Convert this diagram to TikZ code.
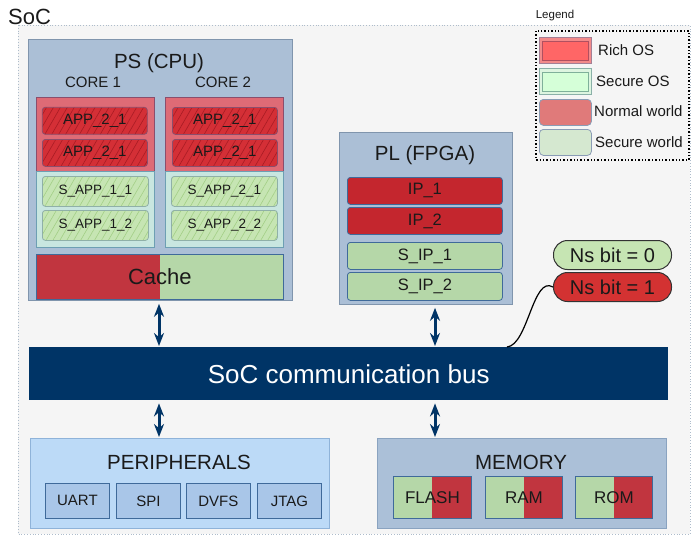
\documentclass[tikz,border=0pt]{standalone}
\usepackage{fontspec}
\setmainfont{Liberation Sans}
\usetikzlibrary{arrows.meta,patterns.meta}
\definecolor{socbg}{HTML}{F5F5F5}
\definecolor{socline}{HTML}{AEBCCB}
\definecolor{psfill}{HTML}{ABBFD6}
\definecolor{psline}{HTML}{8095AD}
\definecolor{redcont}{HTML}{DE6B76}
\definecolor{redcontline}{HTML}{8B4E6C}
\definecolor{appred}{HTML}{D42F36}
\definecolor{apphatch}{HTML}{A81C24}
\definecolor{grcont}{HTML}{C8E6E0}
\definecolor{grcontline}{HTML}{6D9FB3}
\definecolor{sappgreen}{HTML}{C6E5B3}
\definecolor{sapphatch}{HTML}{A3CF86}
\definecolor{sappline}{HTML}{8FB0A8}
\definecolor{cred}{HTML}{C1353F}
\definecolor{cgreen}{HTML}{B5D7A8}
\definecolor{ipred}{HTML}{C4262E}
\definecolor{blueline}{HTML}{3F6A9A}
\definecolor{nsgreen}{HTML}{C6E5B3}
\definecolor{nsred}{HTML}{D33232}
\definecolor{busblue}{HTML}{003466}
\definecolor{perfill}{HTML}{BCDAF7}
\definecolor{perline}{HTML}{8FB3D9}
\definecolor{persub}{HTML}{A9C6E8}
\definecolor{memfill}{HTML}{ABC0D8}
\definecolor{memline}{HTML}{8AA3C0}
\definecolor{richout}{HTML}{F28A8A}
\definecolor{richoutline}{HTML}{A37F95}
\definecolor{richin}{HTML}{FF6666}
\definecolor{richinline}{HTML}{B05060}
\definecolor{secout}{HTML}{DDF5E0}
\definecolor{secoutline}{HTML}{8AB0A8}
\definecolor{secin}{HTML}{D5FFD8}
\definecolor{secinline}{HTML}{7FB09A}
\definecolor{normw}{HTML}{E07A7A}
\definecolor{secw}{HTML}{D5E8D0}
\definecolor{legline}{HTML}{8A9CB5}
\definecolor{txt}{HTML}{1A1A1A}
\tikzset{
  fs/.style={font=\fontsize{#1}{#1}\selectfont},
  blk/.style={draw, inner sep=0pt, anchor=north west, text=txt},
  lbl/.style={inner sep=0pt, text=txt},
  container/.style={blk, fill=psfill, draw=psline, line width=0.8pt},
  redbox/.style={blk, fill=redcont, draw=redcontline, line width=1pt},
  greenbox/.style={blk, fill=grcont, draw=grcontline, line width=1pt},
  appbox/.style={blk, rounded corners=3pt, draw=redcontline, line width=0.8pt,
    preaction={fill=appred}, pattern={Lines[angle=60,distance=6pt,line width=0.6pt]},
    pattern color=apphatch, fs=15},
  sappbox/.style={blk, rounded corners=3pt, draw=sappline, line width=0.8pt,
    preaction={fill=sappgreen}, pattern={Lines[angle=60,distance=6pt,line width=0.6pt]},
    pattern color=sapphatch, fs=13.5},
  ipbox/.style={blk, rounded corners=3pt, fill=ipred, draw=blueline, line width=0.8pt, fs=16.5},
  sipbox/.style={blk, rounded corners=3pt, fill=cgreen, draw=blueline, line width=0.8pt, fs=16.5},
  splitrg/.style={blk, fill=cred, draw=blueline, line width=0.8pt,
    path picture={\fill[cgreen] (path picture bounding box.north) rectangle (path picture bounding box.south east);}},
  splitgr/.style={blk, fill=cgreen, draw=blueline, line width=0.8pt,
    path picture={\fill[cred] (path picture bounding box.north) rectangle (path picture bounding box.south east);}},
  persubbox/.style={blk, fill=persub, draw=blueline, line width=0.8pt, fs=15},
  nsbox/.style={blk, rounded corners=14pt, draw=black!80, line width=1pt, fs=20},
  biarrow/.style={draw=busblue, line width=3pt, {Stealth[length=13pt,width=10pt]}-{Stealth[length=13pt,width=10pt]}, shorten <=3pt, shorten >=1pt},
}
\begin{document}
\begin{tikzpicture}[x=1pt,y=-1pt]
\useasboundingbox (0,0) rectangle (692,536);
\fill[white] (0,0) rectangle (692,536);
% SoC area
\draw[fill=socbg, draw=socline, dotted, line width=0.8pt] (18,25) rectangle (690,534);
\node[lbl, fs=22, anchor=base west] (soc) at (8,24) {SoC};

% Legend
\node[lbl, fs=11.5] (legendlbl) at (555,16) {Legend};
\draw[dotted, line width=1.4pt, draw=black] (536,31) rectangle (689,160);
\node[blk, fill=richout, draw=richoutline, line width=0.8pt, minimum width=52pt, minimum height=26pt] (lg1) at (539,37) {};
\node[blk, fill=richin, draw=richinline, line width=0.8pt, minimum width=46pt, minimum height=19pt] (lg1i) at (542,41) {};
\node[blk, fill=secout, draw=secoutline, line width=0.8pt, minimum width=52pt, minimum height=26pt] (lg2) at (539,68) {};
\node[blk, fill=secin, draw=secinline, line width=0.8pt, minimum width=46pt, minimum height=19pt] (lg2i) at (542,72) {};
\node[blk, rounded corners=4pt, fill=normw, draw=legline, line width=0.8pt, minimum width=52pt, minimum height=26pt] (lg3) at (539,99) {};
\node[blk, rounded corners=4pt, fill=secw, draw=legline, line width=0.8pt, minimum width=52pt, minimum height=26pt] (lg4) at (539,129) {};
\node[lbl, fs=15, anchor=west] (lt1) at (598,50) {Rich OS};
\node[lbl, fs=15, anchor=west] (lt2) at (596,81) {Secure OS};
\node[lbl, fs=15, anchor=west] (lt3) at (594,111) {Normal world};
\node[lbl, fs=15, anchor=west] (lt4) at (595,142) {Secure world};

% PS (CPU)
\node[container, minimum width=264pt, minimum height=261pt] (ps) at (28,39) {};
\node[lbl, fs=20.5] (pstitle) at (159,63) {PS (CPU)};
\node[lbl, fs=15] (core1) at (93,82) {CORE 1};
\node[lbl, fs=15] (core2) at (223,82) {CORE 2};
% core 1
\node[redbox, minimum width=118pt, minimum height=74pt] (c1r) at (36,97) {};
\node[greenbox, minimum width=118pt, minimum height=76pt] (c1g) at (36,171) {};
\node[appbox, minimum width=105pt, minimum height=27pt] (a11) at (42,107) {APP\_2\_1};
\node[appbox, minimum width=105pt, minimum height=27pt] (a12) at (42,139) {APP\_2\_1};
\node[sappbox, minimum width=106pt, minimum height=30pt] (s11) at (42,176) {S\_APP\_1\_1};
\node[sappbox, minimum width=106pt, minimum height=30pt] (s12) at (42,210) {S\_APP\_1\_2};
% core 2
\node[redbox, minimum width=118pt, minimum height=74pt] (c2r) at (165,97) {};
\node[greenbox, minimum width=118pt, minimum height=76pt] (c2g) at (165,171) {};
\node[appbox, minimum width=105pt, minimum height=27pt] (a21) at (172,107) {APP\_2\_1};
\node[appbox, minimum width=105pt, minimum height=27pt] (a22) at (172,139) {APP\_2\_1};
\node[sappbox, minimum width=106pt, minimum height=30pt] (s21) at (171,176) {S\_APP\_2\_1};
\node[sappbox, minimum width=106pt, minimum height=30pt] (s22) at (171,210) {S\_APP\_2\_2};
% cache
\node[splitrg, minimum width=247pt, minimum height=45pt, fs=22] (cache) at (36,254) {Cache};

% PL (FPGA)
\node[container, minimum width=173pt, minimum height=172pt] (pl) at (339,132) {};
\node[lbl, fs=20.5] (pltitle) at (425,155) {PL (FPGA)};
\node[ipbox, minimum width=155pt, minimum height=27pt] (ip1) at (347,177) {IP\_1};
\node[ipbox, minimum width=155pt, minimum height=27pt] (ip2) at (347,207) {IP\_2};
\node[sipbox, minimum width=155pt, minimum height=27pt] (sip1) at (347,242) {S\_IP\_1};
\node[sipbox, minimum width=155pt, minimum height=28pt] (sip2) at (347,272) {S\_IP\_2};

% Ns bits
\node[nsbox, fill=nsgreen, minimum width=118pt, minimum height=29pt] (ns0) at (553,240) {Ns bit = 0};
\node[nsbox, fill=nsred, minimum width=118pt, minimum height=29pt] (ns1) at (553,272) {Ns bit = 1};

% Bus
\node[blk, draw=none, fill=busblue, text=white, fs=26, minimum width=639pt, minimum height=53pt] (bus) at (29,347) {SoC communication bus};

% curve
\coordinate (curveend) at (507,0);
\draw[black, line width=1.2pt] (ns1.west) .. controls (533,275) and (528,345) .. (bus.north -| curveend);

% Peripherals
\node[blk, fill=perfill, draw=perline, line width=0.8pt, minimum width=299pt, minimum height=90pt] (per) at (30,438) {};
\node[lbl, fs=20.5] (pertitle) at (179,462) {PERIPHERALS};
\node[persubbox, minimum width=64pt, minimum height=35pt] (uart) at (45,483) {UART};
\node[persubbox, minimum width=64pt, minimum height=35pt] (spi) at (116,483) {SPI};
\node[persubbox, minimum width=64pt, minimum height=35pt] (dvfs) at (186,483) {DVFS};
\node[persubbox, minimum width=64pt, minimum height=35pt] (jtag) at (257,483) {JTAG};

% Memory
\node[blk, fill=memfill, draw=memline, line width=0.8pt, minimum width=289pt, minimum height=90pt] (mem) at (377,438) {};
\node[lbl, fs=20.5] (memtitle) at (521,462) {MEMORY};
\node[splitgr, fs=17, minimum width=78pt, minimum height=42pt] (flash) at (393,476) {FLASH};
\node[splitgr, fs=17, minimum width=77pt, minimum height=42pt] (ram) at (485,476) {RAM};
\node[splitgr, fs=17, minimum width=77pt, minimum height=42pt] (rom) at (575,476) {ROM};

% arrows
\coordinate (ax1) at (159,0);
\coordinate (ax2) at (435,0);
\draw[biarrow] (ps.south -| ax1) -- (bus.north -| ax1);
\draw[biarrow] (pl.south -| ax2) -- (bus.north -| ax2);
\draw[biarrow] (bus.south -| ax1) -- (per.north -| ax1);
\draw[biarrow] (bus.south -| ax2) -- (mem.north -| ax2);
\end{tikzpicture}
\end{document}
